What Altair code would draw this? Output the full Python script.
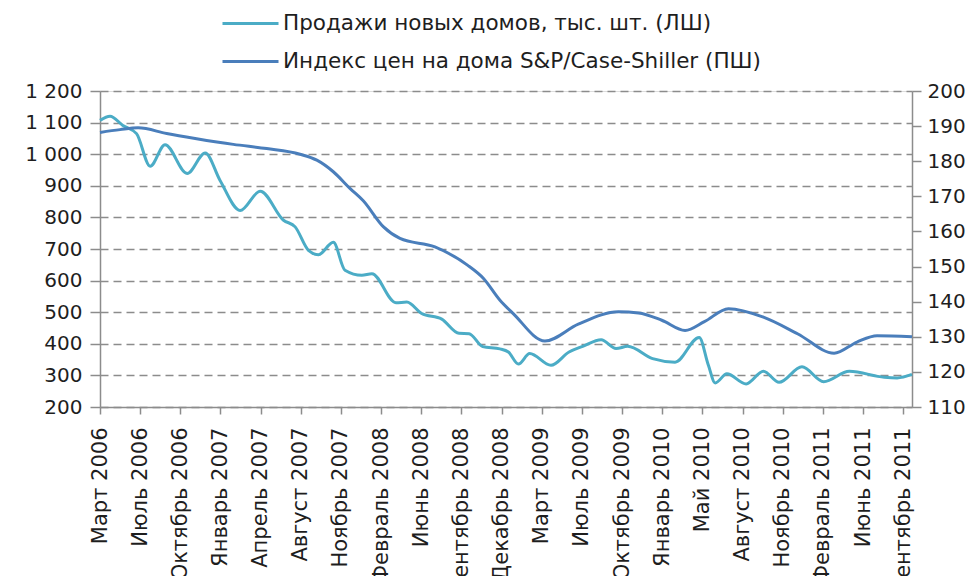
import altair as alt
import pandas as pd

x_labels = ["Март 2006", "Июль 2006", "Октябрь 2006", "Январь 2007", "Апрель 2007",
            "Август 2007", "Ноябрь 2007", "Февраль 2008", "Июнь 2008", "Сентябрь 2008",
            "Декабрь 2008", "Март 2009", "Июль 2009", "Октябрь 2009", "Январь 2010",
            "Май 2010", "Август 2010", "Ноябрь 2010", "Февраль 2011", "Июнь 2011",
            "Сентябрь 2011"]

series_names = ["Продажи новых домов, тыс. шт. (ЛШ)",
                "Индекс цен на дома S&P/Case-Shiller (ПШ)"]

# position along the time axis, in units of label steps (0 = Март 2006)
sales_t = [0.00, 0.25, 0.57, 0.91, 1.25, 1.62, 2.17, 2.62, 2.99, 3.49, 3.99, 4.57, 4.86,
           5.19, 5.44, 5.81, 6.10, 6.52, 6.77, 7.37, 7.64, 8.01, 8.51, 8.94, 9.19, 9.53,
           9.96, 10.17, 10.42, 10.70, 11.23, 11.68, 12.02, 12.48, 12.85, 13.14, 13.76,
           14.32, 14.92, 15.15, 15.32, 15.61, 16.09, 16.52, 16.91, 17.48, 18.02, 18.66,
           19.53, 19.85, 20.22]
sales_v = [1107, 1120, 1091, 1065, 962, 1030, 939, 1004, 917, 822, 883, 791, 770,
           696, 682, 721, 633, 617, 622, 530, 532, 496, 478, 433, 432, 391,
           384, 374, 336, 369, 332, 374, 392, 413, 385, 392, 353,
           342, 420, 332, 276, 305, 273, 313, 278, 327, 280, 313,
           294, 292, 303]

hpi_t = [0.00, 0.50, 0.95, 1.66, 2.37, 3.32, 4.15, 4.98, 5.40, 5.81, 6.23, 6.55, 7.06,
         7.47, 8.34, 9.15, 9.55, 9.96, 10.29, 11.08, 11.91, 12.91, 13.41, 13.99, 14.57,
         15.05, 15.65, 16.52, 17.38, 18.28, 18.85, 19.35, 20.22]
hpi_v = [188.2, 189.0, 189.5, 187.9, 186.5, 184.8, 183.6, 182.0, 180.3, 177.0, 172.2,
         168.8, 161.3, 158.0, 155.6, 150.4, 146.6, 140.4, 136.6, 128.8, 133.6, 137.1,
         136.8, 134.7, 131.8, 134.3, 138.0, 135.6, 130.8, 125.3, 128.5, 130.3, 130.0]

left_ticks = list(range(200, 1300, 100))
right_ticks = list(range(110, 210, 10))

sales_df = pd.DataFrame({"t": sales_t, "v": sales_v, "series": series_names[0]})
hpi_df = pd.DataFrame({"t": hpi_t, "v": hpi_v, "series": series_names[1]})

FONT = "DejaVu Sans"
AXIS_GRAY = "#8c8c8c"
TEXT = "#1e1e1e"

label_expr = "[" + ",".join("'" + l + "'" for l in x_labels) + "][datum.value]"

x_enc = alt.X(
    "t:Q",
    scale=alt.Scale(domain=[0, 20.22], nice=False, zero=False),
    axis=alt.Axis(values=list(range(len(x_labels))), labelExpr=label_expr, labelAngle=270,
                  title=None, grid=False, tickSize=7, tickColor=AXIS_GRAY, tickWidth=1.5,
                  domainColor=AXIS_GRAY, domainWidth=1.5, labelFontSize=21, labelFont=FONT,
                  labelColor=TEXT, labelPadding=13, labelOverlap=False, labelBound=False,
                  labelFlush=False),
)

color_enc = alt.Color(
    "series:N",
    scale=alt.Scale(domain=series_names, range=["#4bacc6", "#4a7ebb"]),
    legend=alt.Legend(title=None, orient="none", legendX=135, legendY=-83,
                      direction="vertical", symbolType="M-2,0H2", symbolSize=784,
                      symbolStrokeWidth=3, labelFontSize=21.5, labelFont=FONT,
                      labelColor=TEXT, labelOffset=17, rowPadding=12, padding=0,
                      labelLimit=0),
)

sales = alt.Chart(sales_df).mark_line(interpolate="monotone", strokeWidth=3).encode(
    x=x_enc,
    y=alt.Y("v:Q", scale=alt.Scale(domain=[200, 1200], nice=False, zero=False),
            axis=alt.Axis(values=left_ticks, orient="left", title=None,
                          labelExpr="replace(format(datum.value, ','), ',', ' ')",
                          grid=True, gridDash=[8, 5], gridColor=AXIS_GRAY, gridWidth=1.5,
                          tickSize=10, tickColor=AXIS_GRAY, tickWidth=1.5,
                          domainColor=AXIS_GRAY, domainWidth=1.5, labelFontSize=20,
                          labelFont=FONT, labelColor=TEXT, labelPadding=8)),
    color=color_enc,
)

hpi = alt.Chart(hpi_df).mark_line(interpolate="monotone", strokeWidth=3).encode(
    x=x_enc,
    y=alt.Y("v:Q", scale=alt.Scale(domain=[110, 200], nice=False, zero=False),
            axis=alt.Axis(values=right_ticks, orient="right", title=None, grid=False,
                          tickSize=9, tickColor=AXIS_GRAY, tickWidth=1.5,
                          domainColor=AXIS_GRAY, domainWidth=1.5, labelFontSize=20,
                          labelFont=FONT, labelColor=TEXT, labelPadding=6)),
    color=color_enc,
)

chart = alt.layer(sales, hpi).resolve_scale(y="independent").properties(
    width=812, height=316,
    autosize=alt.AutoSizeParams(type="none"),
    padding={"left": 92, "top": 83, "right": 59, "bottom": 169},
).configure_view(stroke=None).configure(background="white")

chart.save("out.html", embed_options={"renderer": "svg", "actions": False})
